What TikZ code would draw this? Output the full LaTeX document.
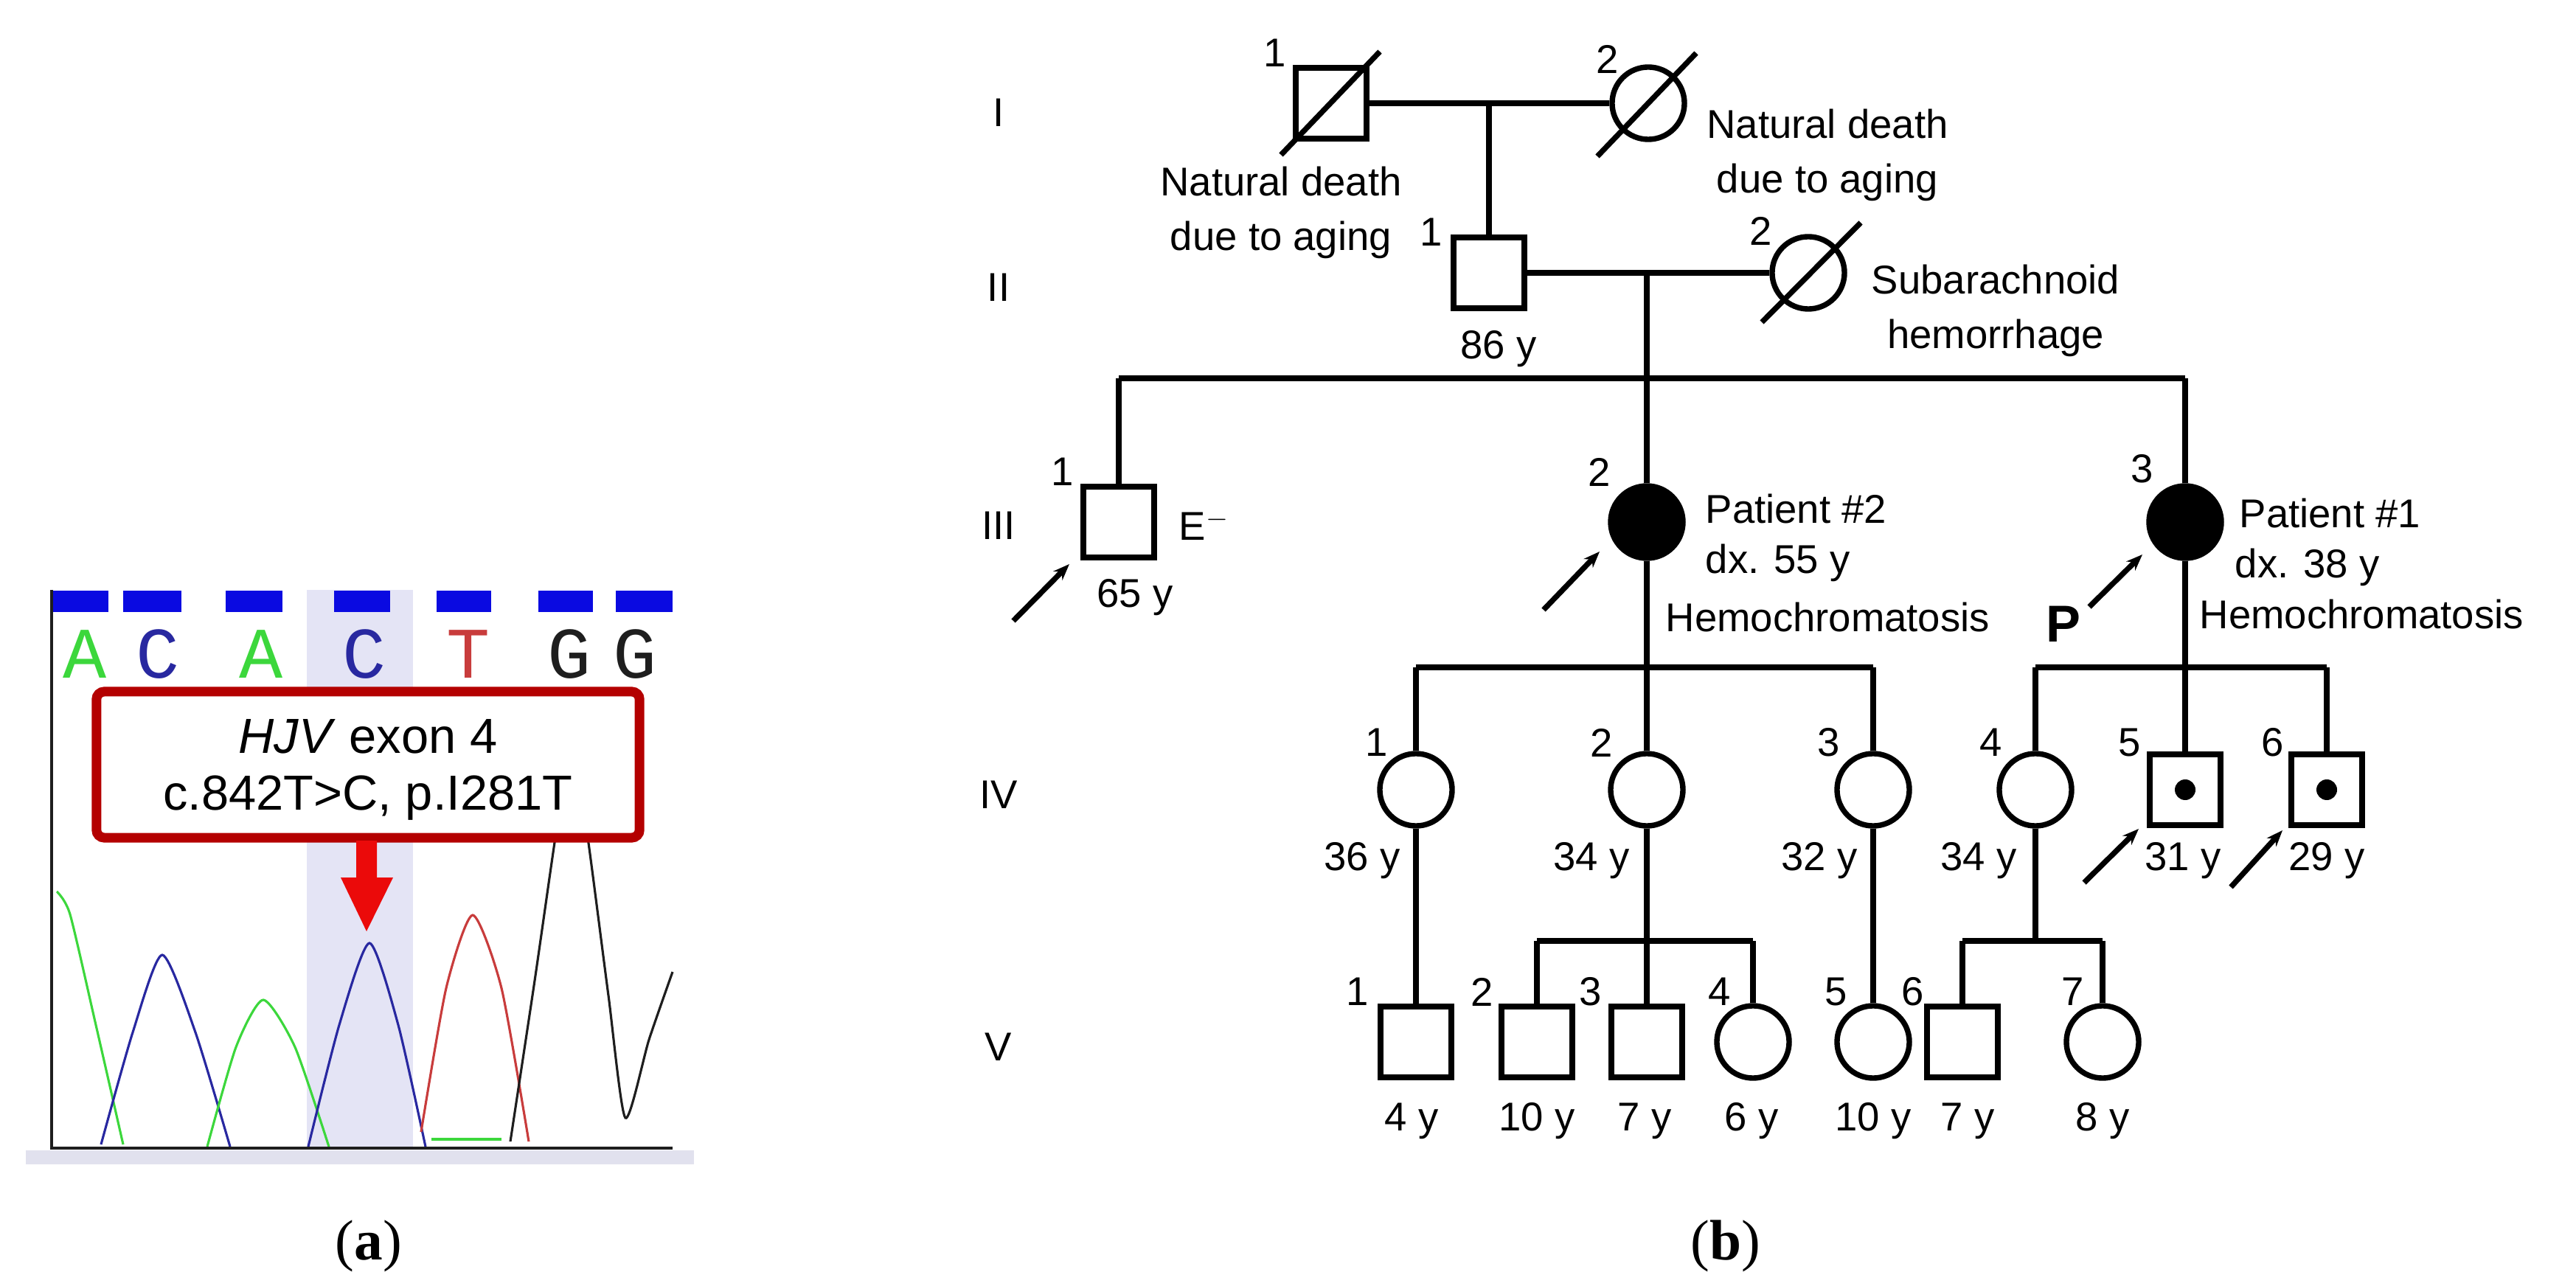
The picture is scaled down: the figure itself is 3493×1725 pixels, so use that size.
\documentclass[tikz,border=0pt]{standalone}
\usepackage{fontspec}
\setmainfont{Liberation Sans}
\newfontfamily\serifl{Liberation Serif}
\newfontfamily\monol{Liberation Mono}
\usetikzlibrary{arrows.meta,calc}
\definecolor{hl}{RGB}{228,228,245}
\definecolor{bbar}{RGB}{10,10,225}
\definecolor{gtr}{RGB}{60,215,60}
\definecolor{btr}{RGB}{40,40,160}
\definecolor{rtr}{RGB}{200,60,60}
\definecolor{ktr}{RGB}{30,30,30}
\definecolor{boxred}{RGB}{180,0,0}
\definecolor{arrred}{RGB}{235,10,10}
\definecolor{strip}{RGB}{225,225,238}
\begin{document}
\begin{tikzpicture}[x=0.01cm,y=-0.01cm,
  every node/.style={font=\fontsize{15.5}{21}\selectfont, inner sep=0pt},
  ln/.style={line width=2.1pt},
  sq/.style={draw, line width=2.1pt, rectangle, minimum size=0.96cm, inner sep=0pt},
  ci/.style={draw, line width=2.1pt, circle, minimum size=0.98cm, inner sep=0pt},
  aff/.style={ci, fill=black},
  dec/.style={line width=2.1pt},
  prob/.style={line width=2.1pt, -{Stealth[length=0.22cm,width=0.17cm]}},
  lab/.style={align=center},
  trace/.style={line width=0.9pt},
  base/.style={font=\monol\fontsize{28}{28}\selectfont}
]
\useasboundingbox (0,0) rectangle (3493,1725);
% ---------------- panel (a) ----------------
\fill[strip] (35,1560) rectangle (941,1579);
\fill[hl] (416,800) rectangle (560,1555);
\foreach \a/\b in {70/147,167/246,306/383,453/529,592/666,730/804,835/912}
  \fill[bbar] (\a,801) rectangle (\b,830);
\node[base, text=gtr] (bA1) at (115,887) {A};
\node[base, text=btr] (bC1) at (214,887) {C};
\node[base, text=gtr] (bA2) at (354,887) {A};
\node[base, text=btr] (bC2) at (494,887) {C};
\node[base, text=rtr] (bT) at (635,887) {T};
\node[base, text=ktr] (bG1) at (772,887) {G};
\node[base, text=ktr] (bG2) at (861,887) {G};
% traces
\draw[trace, gtr] plot[smooth, tension=0.4] coordinates {(77,1209) (95,1240) (130,1390) (167,1552)};
\draw[trace, btr] plot[smooth, tension=0.4] coordinates {(137,1552) (180,1400) (220,1295) (265,1400) (312,1555)};
\draw[trace, gtr] plot[smooth, tension=0.4] coordinates {(281,1555) (320,1420) (357,1356) (400,1420) (446,1555)};
\draw[trace, btr] plot[smooth, tension=0.4] coordinates {(418,1555) (460,1390) (501,1279) (540,1390) (577,1555)};
\draw[trace, rtr] plot[smooth, tension=0.4] coordinates {(571,1535) (605,1340) (641,1241) (680,1340) (717,1548)};
\draw[trace, ktr] plot[smooth, tension=0.4] coordinates {(692,1548) (725,1330) (753,1136) (775,1000) (797,1136) (825,1350) (848,1516) (880,1410) (912,1318)};
\draw[trace, gtr] (585,1545) -- (680,1545);
\draw[line width=1.3pt, ktr] (70,800) -- (70,1557) -- (912,1557);
% box
\node[draw=boxred, line width=3.7pt, fill=white, rounded corners=3pt, minimum width=7.36cm, minimum height=1.98cm] (mut) at (499,1037) {};
\node[font=\fontsize{19}{23}\selectfont] (mutl1) at (499,999) {\textit{HJV} exon 4};
\node[font=\fontsize{19}{23}\selectfont] (mutl2) at (499,1082) {c.842T>C, p.I281T};
\fill[arrred] (483,1140) -- (511,1140) -- (511,1190) -- (533,1190) -- (497,1263) -- (462,1190) -- (483,1190) -- cycle;
\node[font=\serifl\fontsize{22}{26}\selectfont] (capa) at (500,1690) {(\textbf{a})};
% ---------------- panel (b) ----------------
\foreach \g/\y in {I/153,II/390,III/713,IV/1078,V/1420}
  \node (gen\g) at (1354,\y) {\g};
% generation I
\node[sq] (I1) at (1805,140) {};
\node[ci] (I2) at (2235,140) {};
\draw[dec] ($(I1)+(-68,70)$) -- ($(I1)+(66,-70)$);
\draw[ln] (I1) -- (I2);
\coordinate (m1) at (2019,140);
\node (nI1) at (1729,72) {1};
\node (nI2) at (2180,80) {2};
\node[lab] (tI1) at (1737,288) {Natural death\\due to aging};
\node[lab] (tI2) at (2478,210) {Natural death\\due to aging};
% generation II
\node[sq] (II1) at (2019,370) {};
\node[ci] (II2) at (2452,370) {};
\draw[ln] (m1) -- (II1);
\draw[ln] (II1) -- (II2);
\coordinate (m2) at (2233,370);
\node (nII1) at (1941,315) {1};
\node (nII2) at (2388,313) {2};
\node (aII1) at (2032,473) {86 y};
\node[lab] (tII2) at (2706,421) {Subarachnoid\\hemorrhage};
% generation III
\coordinate (s3) at (2233,513);
\coordinate (s3l) at (1517,513);
\coordinate (s3r) at (2963,513);
\node[sq] (III1) at (1517,708) {};
\node[aff] (III2) at (2233,708) {};
\node[aff] (III3) at (2963,708) {};
\draw[ln] (m2) -- (s3);
\draw[ln] (s3l) -- (s3r);
\draw[ln] (s3l) -- (III1);
\draw[ln] (s3) -- (III2);
\draw[ln] (s3r) -- (III3);
\node (nIII1) at (1441,640) {1};
\node (nIII2) at (2169,640) {2};
\node (nIII3) at (2905,636) {3};
\node[anchor=west] (eIII1) at (1598,712) {E$^{-}$};
\node (aIII1) at (1539,810) {65 y};
\node[anchor=west] (p2a) at (2312,690) {Patient \#2};
\node[anchor=west] (p2b) at (2312,763) {dx. 55 y};
\node[anchor=west] (p2c) at (2258,837) {Hemochromatosis};
\node[anchor=west] (p1a) at (3036,696) {Patient \#1};
\node[anchor=west] (p1b) at (3030,769) {dx. 38 y};
\node[anchor=west] (p1c) at (2982,833) {Hemochromatosis};
\node[font=\bfseries\fontsize{20}{24}\selectfont] (P) at (2798,846) {P};
\coordinate (ar1s) at (1374,842); \coordinate (ar1e) at (1450,765);
\coordinate (ar2s) at (2093,827); \coordinate (ar2e) at (2169,748);
\coordinate (ar3s) at (2833,823); \coordinate (ar3e) at (2905,752);
\draw[prob] (ar1s) -- (ar1e);
\draw[prob] (ar2s) -- (ar2e);
\draw[prob] (ar3s) -- (ar3e);
% generation IV
\coordinate (s4a) at (2233,905);
\coordinate (s4al) at (1920,905);
\coordinate (s4ar) at (2540,905);
\coordinate (s4b) at (2963,905);
\coordinate (s4bl) at (2760,905);
\coordinate (s4br) at (3155,905);
\node[ci] (IV1) at (1920,1071) {};
\node[ci] (IV2) at (2233,1071) {};
\node[ci] (IV3) at (2540,1071) {};
\node[ci] (IV4) at (2760,1071) {};
\node[sq] (IV5) at (2963,1071) {};
\node[sq] (IV6) at (3155,1071) {};
\fill (IV5.center) circle (14);
\fill (IV6.center) circle (14);
\draw[ln] (III2) -- (s4a);
\draw[ln] (III3) -- (s4b);
\draw[ln] (s4al) -- (s4ar);
\draw[ln] (s4bl) -- (s4br);
\draw[ln] (s4al) -- (IV1);
\draw[ln] (s4a) -- (IV2);
\draw[ln] (s4ar) -- (IV3);
\draw[ln] (s4bl) -- (IV4);
\draw[ln] (s4b) -- (IV5);
\draw[ln] (s4br) -- (IV6);
\node (nIV1) at (1867,1007) {1};
\node (nIV2) at (2172,1007) {2};
\node (nIV3) at (2480,1007) {3};
\node (nIV4) at (2700,1007) {4};
\node (nIV5) at (2888,1007) {5};
\node (nIV6) at (3082,1007) {6};
\node (aIV1) at (1847,1167) {36 y};
\node (aIV2) at (2158,1167) {34 y};
\node (aIV3) at (2467,1167) {32 y};
\node (aIV4) at (2683,1167) {34 y};
\node (aIV5) at (2960,1167) {31 y};
\node (aIV6) at (3155,1167) {29 y};
\coordinate (ar4s) at (2826,1197); \coordinate (ar4e) at (2900,1124);
\coordinate (ar5s) at (3025,1203); \coordinate (ar5e) at (3095,1126);
\draw[prob] (ar4s) -- (ar4e);
\draw[prob] (ar5s) -- (ar5e);
% generation V
\coordinate (s5a) at (2233,1276);
\coordinate (s5al) at (2084,1276);
\coordinate (s5ar) at (2377,1276);
\coordinate (s5b) at (2760,1276);
\coordinate (s5bl) at (2661,1276);
\coordinate (s5br) at (2851,1276);
\node[sq] (V1) at (1920,1413) {};
\node[sq] (V2) at (2084,1413) {};
\node[sq] (V3) at (2233,1413) {};
\node[ci] (V4) at (2377,1413) {};
\node[ci] (V5) at (2540,1413) {};
\node[sq] (V6) at (2661,1413) {};
\node[ci] (V7) at (2851,1413) {};
\draw[ln] (IV1) -- (V1);
\draw[ln] (IV2) -- (s5a);
\draw[ln] (s5al) -- (s5ar);
\draw[ln] (s5al) -- (V2);
\draw[ln] (s5a) -- (V3);
\draw[ln] (s5ar) -- (V4);
\draw[ln] (IV3) -- (V5);
\draw[ln] (IV4) -- (s5b);
\draw[ln] (s5bl) -- (s5br);
\draw[ln] (s5bl) -- (V6);
\draw[ln] (s5br) -- (V7);
\node (nV1) at (1841,1345) {1};
\node (nV2) at (2010,1345) {2};
\node (nV3) at (2157,1345) {3};
\node (nV4) at (2332,1345) {4};
\node (nV5) at (2490,1345) {5};
\node (nV6) at (2594,1345) {6};
\node (nV7) at (2811,1345) {7};
\node (aV1) at (1914,1520) {4 y};
\node (aV2) at (2084,1520) {10 y};
\node (aV3) at (2230,1520) {7 y};
\node (aV4) at (2375,1520) {6 y};
\node (aV5) at (2540,1520) {10 y};
\node (aV6) at (2668,1520) {7 y};
\node (aV7) at (2851,1520) {8 y};
\node[font=\serifl\fontsize{22}{26}\selectfont] (capb) at (2340,1690) {(\textbf{b})};
% deceased slashes on circles
\draw[dec] ($(I2)+(-69,72)$) -- ($(I2)+(65,-68)$);
\draw[dec] ($(II2)+(-63,67)$) -- ($(II2)+(71,-68)$);
\end{tikzpicture}
\end{document}
